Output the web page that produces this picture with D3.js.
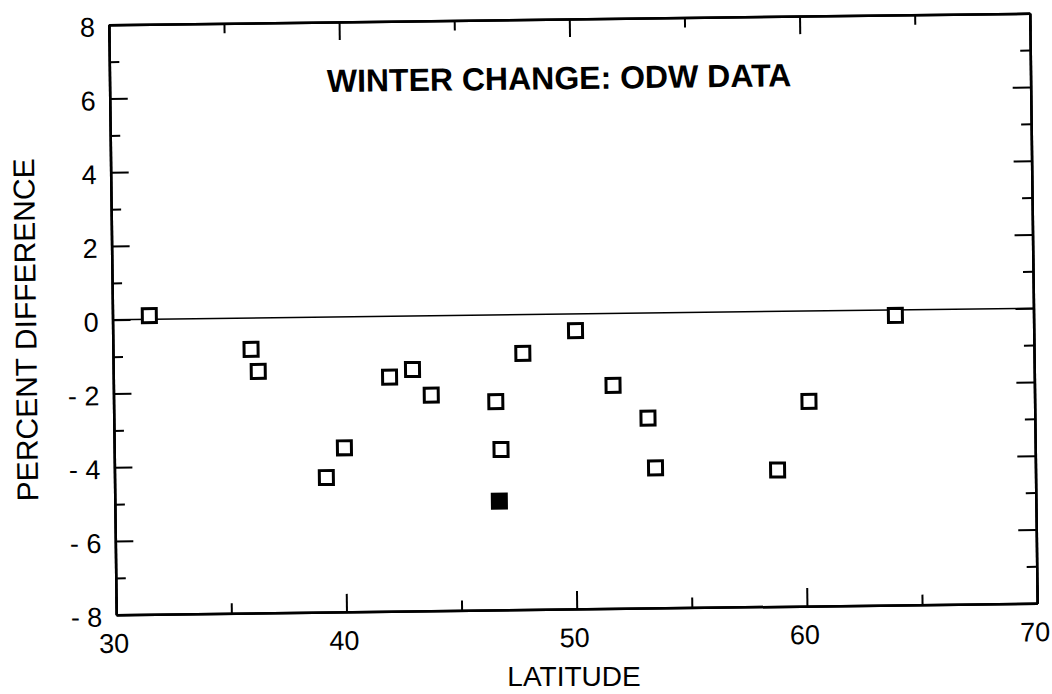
<!DOCTYPE html>
<html>
<head>
<meta charset="utf-8">
<script src="https://cdn.jsdelivr.net/npm/d3@7"></script>
<style>
  html, body { margin: 0; padding: 0; background: #fff; }
  svg { display: block; }
  text { font-family: "Liberation Sans", Arial, Helvetica, sans-serif; fill: #000; }
</style>
</head>
<body>
<svg id="chart" width="1052" height="694"></svg>
<script>
// ---- data ----
const latitude     = [31.6, 36.0, 36.3, 39.2, 40.0, 42.0, 43.0, 43.8, 46.6, 46.8, 47.8, 50.1, 51.7, 53.2, 53.5, 58.8, 60.2, 64.0];
const percentDiff  = [0.1, -0.85, -1.45, -4.35, -3.55, -1.65, -1.45, -2.15, -2.35, -3.65, -1.05, -0.45, -1.95, -2.85, -4.2, -4.3, -2.45, -0.15];
const filledLatitude = [46.7];
const filledPercent  = [-5.05];
const xTickValues = [30, 40, 50, 60, 70];
const xTickLabels = ["30", "40", "50", "60", "70"];
const xMinorTicks = [35, 45, 55, 65];
const yTickValues = [8, 6, 4, 2, 0, -2, -4, -6, -8];
const yTickLabels = ["8", "6", "4", "2", "0", "- 2", "- 4", "- 6", "- 8"];
const yMinorTicks = [7, 5, 3, 1, -1, -3, -5, -7];
const titleText = "WINTER CHANGE: ODW DATA";
const xTitle = "LATITUDE";
const yTitle = "PERCENT DIFFERENCE";

// ---- layout ----
const L = 112.5, R = 1033.5, T = 19, B = 609;
const cx = (L + R) / 2, cy = (T + B) / 2;
const x = d3.scaleLinear().domain([30, 70]).range([L, R]);
const y = d3.scaleLinear().domain([-8, 8]).range([B, T]);

const svg = d3.select("#chart");
// slight tilt of the scanned original
const g = svg.append("g").attr("transform", `rotate(-0.72, ${cx}, ${cy})`);

const majorLen = 18, minorLen = 10;
const tickFont = 27;

function styleAxis(sel) {
  sel.select(".domain").attr("stroke", "#000").attr("stroke-width", 2.5);
  sel.selectAll(".tick line").attr("stroke", "#000").attr("stroke-width", 2);
}

// bottom major
g.append("g").attr("transform", `translate(0,${B})`)
  .call(d3.axisBottom(x).tickValues(xTickValues).tickSizeInner(-majorLen).tickSizeOuter(0)
        .tickFormat((d, i) => xTickLabels[i]))
  .call(styleAxis)
  .call(s => s.selectAll("text").attr("font-size", tickFont).attr("y", 38).attr("dy", 0)
        .attr("dx", -3).attr("text-anchor", "middle"));
// bottom minor
g.append("g").attr("transform", `translate(0,${B})`)
  .call(d3.axisBottom(x).tickValues(xMinorTicks).tickSizeInner(-minorLen).tickSizeOuter(0).tickFormat(""))
  .call(styleAxis);
// top
g.append("g").attr("transform", `translate(0,${T})`)
  .call(d3.axisTop(x).tickValues(xTickValues).tickSizeInner(-majorLen).tickSizeOuter(0).tickFormat(""))
  .call(styleAxis);
g.append("g").attr("transform", `translate(0,${T})`)
  .call(d3.axisTop(x).tickValues(xMinorTicks).tickSizeInner(-minorLen).tickSizeOuter(0).tickFormat(""))
  .call(styleAxis);
// left
g.append("g").attr("transform", `translate(${L},0)`)
  .call(d3.axisLeft(y).tickValues(yTickValues).tickSizeInner(-majorLen).tickSizeOuter(0)
        .tickFormat((d, i) => yTickLabels[i]))
  .call(styleAxis)
  .call(s => s.selectAll("text").attr("font-size", tickFont).attr("x", -14).attr("dy", 0)
        .attr("y", 11).attr("text-anchor", "end").attr("xml:space", "preserve"));
g.append("g").attr("transform", `translate(${L},0)`)
  .call(d3.axisLeft(y).tickValues(yMinorTicks).tickSizeInner(-minorLen).tickSizeOuter(0).tickFormat(""))
  .call(styleAxis);
// right
g.append("g").attr("transform", `translate(${R},0)`)
  .call(d3.axisRight(y).tickValues(yTickValues).tickSizeInner(-majorLen).tickSizeOuter(0).tickFormat(""))
  .call(styleAxis);
g.append("g").attr("transform", `translate(${R},0)`)
  .call(d3.axisRight(y).tickValues(yMinorTicks).tickSizeInner(-minorLen).tickSizeOuter(0).tickFormat(""))
  .call(styleAxis);

// zero reference line
g.append("line")
  .attr("x1", x(30)).attr("x2", x(70))
  .attr("y1", y(0)).attr("y2", y(0))
  .attr("stroke", "#000").attr("stroke-width", 1.5);

// open squares
const sq = 14;
g.append("g").selectAll("rect.open")
  .data(latitude.map((d, i) => ({ lat: d, val: percentDiff[i] })))
  .join("rect")
  .attr("class", "open")
  .attr("x", d => x(d.lat) - sq / 2)
  .attr("y", d => y(d.val) - sq / 2)
  .attr("width", sq).attr("height", sq)
  .attr("fill", "#fff").attr("stroke", "#000").attr("stroke-width", 3);

// filled square
g.append("g").selectAll("rect.filled")
  .data(filledLatitude.map((d, i) => ({ lat: d, val: filledPercent[i] })))
  .join("rect")
  .attr("class", "filled")
  .attr("x", d => x(d.lat) - sq / 2)
  .attr("y", d => y(d.val) - sq / 2)
  .attr("width", sq).attr("height", sq)
  .attr("fill", "#000").attr("stroke", "#000").attr("stroke-width", 3);

// title
g.append("text")
  .attr("x", 562).attr("y", 89)
  .attr("text-anchor", "middle")
  .attr("font-size", 32).attr("font-weight", "bold")
  .text(titleText);

// axis titles
svg.append("text")
  .attr("x", 574).attr("y", 686)
  .attr("text-anchor", "middle")
  .attr("font-size", 28)
  .text(xTitle);

g.append("text")
  .attr("transform", `translate(36, 323) rotate(-90)`)
  .attr("text-anchor", "middle")
  .attr("font-size", 30)
  .text(yTitle);
</script>
</body>
</html>
